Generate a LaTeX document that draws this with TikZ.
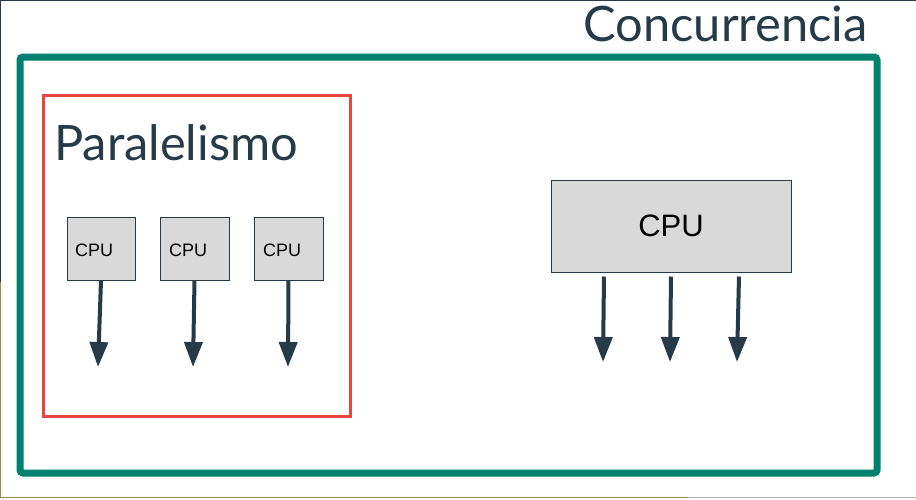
\documentclass[tikz,border=0pt]{standalone}
\usepackage{fontspec}
\setmainfont{Liberation Sans}
\newfontfamily\titulo{Lato}
\usetikzlibrary{arrows.meta}

\definecolor{verde}{HTML}{00806E}
\definecolor{rojo}{HTML}{E8453C}
\definecolor{pizarra}{HTML}{263A47}
\definecolor{gris}{HTML}{D9D9D9}
\definecolor{oliva}{HTML}{A08A4C}

\tikzset{
  cpu/.style={draw=pizarra, line width=1pt, fill=gris, inner sep=0pt},
  flecha/.style={pizarra, line width=4pt, -{Triangle[width=18pt,length=25pt]}},
}

\begin{document}
\begin{tikzpicture}[x=1pt, y=-1pt]
        \useasboundingbox (0,0) rectangle (916,499);
        % bordes de la captura
        \draw[pizarra, line width=1.2pt] (0,0.6) -- (916,0.6);
        \draw[pizarra, line width=1.2pt] (0.6,0) -- (0.6,282);
        \draw[oliva, line width=1.2pt] (0.6,282) -- (0.6,497.5) -- (688,497.5);
        \draw[gray!60, line width=1.2pt] (688,497.5) -- (916,497.5);

        \draw[verde, line width=7pt, rounded corners=3pt] (20,57) rectangle (877,473);
        \node[anchor=base east, pizarra, font=\titulo\fontsize{48.8}{48.8}\selectfont, inner sep=0pt] (conc) at (868,41) {Concurrencia};

        \draw[rojo, line width=3pt] (43,95) rectangle (350,416);
        \node[anchor=base west, pizarra, font=\titulo\fontsize{48.8}{48.8}\selectfont, inner sep=0pt] (para) at (54,160) {Paralelismo};

        \node[cpu, minimum width=68pt, minimum height=63pt] (c1) at (101,248.5) {};
        \node[cpu, minimum width=69pt, minimum height=63pt] (c2) at (194.5,248.5) {};
        \node[cpu, minimum width=69pt, minimum height=63pt] (c3) at (288.5,248.5) {};
        \node[anchor=base west, font=\fontsize{18}{18}\selectfont, inner sep=0pt] at (75,256) {CPU};
        \node[anchor=base west, font=\fontsize{18}{18}\selectfont, inner sep=0pt] at (169,256) {CPU};
        \node[anchor=base west, font=\fontsize{18}{18}\selectfont, inner sep=0pt] at (263,256) {CPU};

        \coordinate (p1) at (98,367);
        \coordinate (p2) at (193,367);
        \coordinate (p3) at (288,367);
        \draw[flecha] (c1.south) -- (p1);
        \draw[flecha] (c2.south) -- (p2);
        \draw[flecha] (c3.south) -- (p3);

        \node[cpu, minimum width=240pt, minimum height=92pt, font=\fontsize{31}{31}\selectfont] (cpu) at (671,226) {CPU};
        \coordinate (q1) at (603,362);
        \coordinate (q2) at (670,362);
        \coordinate (q3) at (737,362);
        \draw[flecha] ([xshift=-67pt,yshift=-4pt]cpu.south) -- (q1);
        \draw[flecha] ([yshift=-4pt]cpu.south) -- (q2);
        \draw[flecha] ([xshift=68pt,yshift=-4pt]cpu.south) -- (q3);
    \end{tikzpicture}
\end{document}
